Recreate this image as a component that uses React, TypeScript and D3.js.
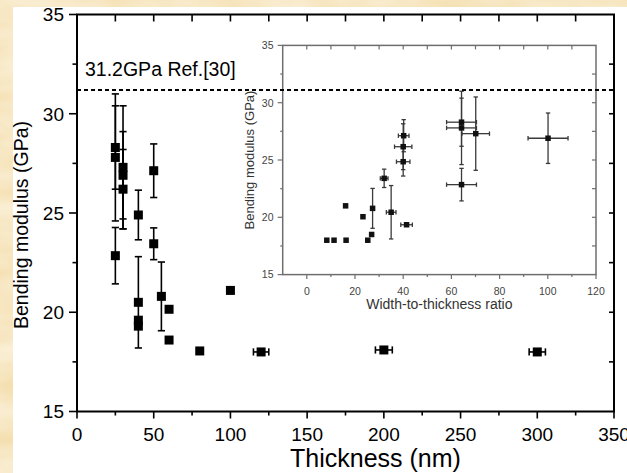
import React from "react";
import * as d3 from "d3";

// Main panel: bending modulus versus sample thickness
const thicknessNm = [25, 25, 25, 30, 30, 30, 40, 40, 40, 40, 50, 50, 55, 60, 60, 80, 100, 120, 200, 300];
const modulusGPa = [28.3, 27.8, 22.85, 27.3, 26.9, 26.2, 24.9, 20.5, 19.6, 19.3, 27.13, 23.45, 20.8, 20.15, 18.6, 18.05, 21.1, 18.0, 18.1, 18.0];
const modulusErr = [2.1, 3.2, 1.42, 3.1, 2.2, 2.0, 1.25, 2.3, 0, 0, 1.35, 0.8, 1.73, 0, 0, 0, 0, 0, 0, 0];
const thicknessErr = [0, 0, 0, 0, 0, 0, 0, 0, 0, 0, 0, 0, 0, 0, 0, 0, 0, 5, 5.5, 5.3];

// Inset: bending modulus versus width-to-thickness ratio
const ratio = [64.2, 64.2, 64.2, 70.1, 100.1, 40.2, 40.0, 40.0, 32.1, 35.0, 27.3, 41.4, 16.1, 23.3, 26.9, 8.3, 11.3, 16.3, 25.3];
const ratioModulus = [28.3, 27.8, 22.85, 27.3, 26.9, 27.12, 26.16, 24.85, 23.4, 20.44, 20.78, 19.35, 21.0, 20.05, 18.5, 18.0, 18.0, 18.0, 18.0];
const ratioErr = [6.2, 6.2, 6.2, 5.7, 8.3, 2.2, 3.6, 2.8, 1.6, 2.0, 0, 2.4, 0, 0, 0, 0, 0, 0, 0];
const ratioModulusErr = [2.1, 3.2, 1.42, 3.2, 2.2, 1.4, 2.0, 1.25, 0.8, 2.33, 1.74, 0, 0, 0, 0, 0, 0, 0, 0];

const mainXTicks = [0, 50, 100, 150, 200, 250, 300, 350];
const mainYTicks = [15, 20, 25, 30, 35];
const insetXTicks = [0, 20, 40, 60, 80, 100, 120];
const insetYTicks = [15, 20, 25, 30, 35];

const referenceModulus = 31.2;
const referenceLabel = "31.2GPa Ref.[30]";

const W = 627;
const H = 473;
const FONT = "'Liberation Sans', Arial, Helvetica, sans-serif";

export default function App() {
  const x = d3.scaleLinear().domain([0, 350]).range([77, 614]);
  const y = d3.scaleLinear().domain([15, 35]).range([411.5, 14.5]);
  const ix = d3.scaleLinear().domain([-10, 120]).range([282.7, 596]);
  const iy = d3.scaleLinear().domain([15, 35]).range([274.6, 45.4]);

  const minorX = d3.range(25, 350, 50);
  const minorY = d3.range(17.5, 35, 5);
  const topX = d3.range(25, 350, 25);
  const rightY = d3.range(17.5, 35, 2.5);
  const insetMinorX = d3.range(-10, 120, 20).filter((v) => v > -10);
  const insetMinorY = d3.range(17.5, 35, 5);
  const insetTopX = d3.range(0, 120, 10);
  const insetRightY = d3.range(17.5, 35, 2.5);

  const [x0, x1] = x.range();
  const [yb, yt] = y.range();
  const [ix0, ix1] = ix.range();
  const [iyb, iyt] = iy.range();

  const sq = 9;
  const cap = 3.6;
  const isq = 5.5;
  const icap = 2.2;
  const insetInk = "#3a3a3a";
  const insetAxis = "#6e6e6e";

  return (
    <svg
      width={W}
      height={H}
      viewBox={`0 0 ${W} ${H}`}
      style={{ position: "absolute", left: 0, top: 0, fontFamily: FONT }}
    >
      <defs>
        <filter id="paperGrain" x="0" y="0" width="100%" height="100%">
          <feTurbulence type="fractalNoise" baseFrequency="0.012 0.035" numOctaves={3} seed={7} />
          <feColorMatrix
            type="matrix"
            values="0 0 0 0 0.99  0 0 0 0 0.95  0 0 0 0 0.86  1.1 0 0 0 -0.25"
          />
        </filter>
      </defs>
      <rect x={0} y={0} width={W} height={H} fill="#f4dfb0" />
      <rect x={0} y={0} width={W} height={H} filter="url(#paperGrain)" />
      <rect x={13} y={7} width={W - 13} height={H - 7} fill="#ffffff" />

      {/* main frame */}
      <rect x={x0} y={yt} width={x1 - x0} height={yb - yt} fill="none" stroke="#000" strokeWidth={2} />

      {/* bottom axis ticks (outward) */}
      {mainXTicks.map((t) => (
        <line key={"bx" + t} x1={x(t)} x2={x(t)} y1={yb} y2={yb + 7} stroke="#000" strokeWidth={1.6} />
      ))}
      {minorX.map((t) => (
        <line key={"bmx" + t} x1={x(t)} x2={x(t)} y1={yb} y2={yb + 4} stroke="#000" strokeWidth={1.6} />
      ))}
      {/* top axis ticks (inward) */}
      {topX.map((t) => (
        <line key={"tx" + t} x1={x(t)} x2={x(t)} y1={yt} y2={yt + 7} stroke="#000" strokeWidth={1.6} />
      ))}
      {/* left axis ticks (outward) */}
      {mainYTicks.map((t) => (
        <line key={"ly" + t} x1={x0 - 8} x2={x0} y1={y(t)} y2={y(t)} stroke="#000" strokeWidth={1.6} />
      ))}
      {minorY.map((t) => (
        <line key={"lmy" + t} x1={x0 - 4.5} x2={x0} y1={y(t)} y2={y(t)} stroke="#000" strokeWidth={1.6} />
      ))}
      {/* right axis ticks (inward) */}
      {rightY.map((t) => (
        <line key={"ry" + t} x1={x1 - 5} x2={x1} y1={y(t)} y2={y(t)} stroke="#000" strokeWidth={1.6} />
      ))}

      {/* tick labels */}
      {mainXTicks.map((t) => (
        <text key={"bxl" + t} x={x(t)} y={441} textAnchor="middle" fontSize={19} fill="#000">
          {t}
        </text>
      ))}
      {mainYTicks.map((t) => (
        <text key={"lyl" + t} x={64} y={y(t) + 6.8} textAnchor="end" fontSize={19} fill="#000">
          {t}
        </text>
      ))}

      {/* axis titles */}
      <text x={290} y={467} fontSize={25} fill="#000">
        Thickness (nm)
      </text>
      <text
        transform={`translate(28,${(120 + 330) / 2}) rotate(-90)`}
        textAnchor="middle"
        fontSize={19.5}
        fill="#000"
      >
        Bending modulus (GPa)
      </text>

      {/* main data: error bars */}
      {thicknessNm.map((t, i) => {
        const cx = x(t);
        const cy = y(modulusGPa[i]);
        const e = modulusErr[i];
        const ex = thicknessErr[i];
        return (
          <g key={"me" + i} stroke="#000" strokeWidth={1.6}>
            {e > 0 && (
              <>
                <line x1={cx} x2={cx} y1={y(modulusGPa[i] + e)} y2={y(modulusGPa[i] - e)} />
                <line x1={cx - cap} x2={cx + cap} y1={y(modulusGPa[i] + e)} y2={y(modulusGPa[i] + e)} />
                <line x1={cx - cap} x2={cx + cap} y1={y(modulusGPa[i] - e)} y2={y(modulusGPa[i] - e)} />
              </>
            )}
            {ex > 0 && (
              <>
                <line x1={x(t - ex)} x2={x(t + ex)} y1={cy} y2={cy} />
                <line x1={x(t - ex)} x2={x(t - ex)} y1={cy - cap} y2={cy + cap} />
                <line x1={x(t + ex)} x2={x(t + ex)} y1={cy - cap} y2={cy + cap} />
              </>
            )}
          </g>
        );
      })}
      {/* main data: square markers */}
      {thicknessNm.map((t, i) => (
        <rect key={"mp" + i} x={x(t) - sq / 2} y={y(modulusGPa[i]) - sq / 2} width={sq} height={sq} fill="#000" />
      ))}

      {/* inset panel */}
      <rect x={ix0} y={iyt} width={ix1 - ix0} height={iyb - iyt} fill="#fff" stroke={insetAxis} strokeWidth={1.5} />
      {insetXTicks.map((t) => (
        <line key={"ibx" + t} x1={ix(t)} x2={ix(t)} y1={iyb} y2={iyb + 4.5} stroke={insetAxis} strokeWidth={1.2} />
      ))}
      {insetMinorX.map((t) => (
        <line key={"ibmx" + t} x1={ix(t)} x2={ix(t)} y1={iyb} y2={iyb + 2.5} stroke={insetAxis} strokeWidth={1.2} />
      ))}
      {insetTopX.map((t) => (
        <line key={"itx" + t} x1={ix(t)} x2={ix(t)} y1={iyt} y2={iyt + 4} stroke={insetAxis} strokeWidth={1.2} />
      ))}
      {insetYTicks.map((t) => (
        <line key={"ily" + t} x1={ix0 - 5} x2={ix0} y1={iy(t)} y2={iy(t)} stroke={insetAxis} strokeWidth={1.2} />
      ))}
      {insetMinorY.map((t) => (
        <line key={"ilmy" + t} x1={ix0 - 2.5} x2={ix0} y1={iy(t)} y2={iy(t)} stroke={insetAxis} strokeWidth={1.2} />
      ))}
      {insetRightY.map((t) => (
        <line key={"iry" + t} x1={ix1 - 4} x2={ix1} y1={iy(t)} y2={iy(t)} stroke={insetAxis} strokeWidth={1.2} />
      ))}
      {insetXTicks.map((t) => (
        <text key={"ibxl" + t} x={ix(t)} y={294.5} textAnchor="middle" fontSize={10.5} fill="#444">
          {t}
        </text>
      ))}
      {insetYTicks.map((t) => (
        <text key={"ilyl" + t} x={273.5} y={iy(t) + 3.8} textAnchor="end" fontSize={10.5} fill="#444">
          {t}
        </text>
      ))}
      <text x={(ix0 + ix1) / 2} y={308.5} textAnchor="middle" fontSize={14} fill="#333">
        Width-to-thickness ratio
      </text>
      <text
        transform={`translate(253.5,${(iyt + iyb) / 2}) rotate(-90)`}
        textAnchor="middle"
        fontSize={13}
        fill="#333"
      >
        Bending modulus (GPa)
      </text>

      {/* inset data: error bars */}
      {ratio.map((r, i) => {
        const cx = ix(r);
        const v = ratioModulus[i];
        const cy = iy(v);
        const e = ratioModulusErr[i];
        const ex = ratioErr[i];
        return (
          <g key={"ie" + i} stroke={insetInk} strokeWidth={1.3}>
            {e > 0 && (
              <>
                <line x1={cx} x2={cx} y1={iy(v + e)} y2={iy(v - e)} />
                <line x1={cx - icap} x2={cx + icap} y1={iy(v + e)} y2={iy(v + e)} />
                <line x1={cx - icap} x2={cx + icap} y1={iy(v - e)} y2={iy(v - e)} />
              </>
            )}
            {ex > 0 && (
              <>
                <line x1={ix(r - ex)} x2={ix(r + ex)} y1={cy} y2={cy} />
                <line x1={ix(r - ex)} x2={ix(r - ex)} y1={cy - icap} y2={cy + icap} />
                <line x1={ix(r + ex)} x2={ix(r + ex)} y1={cy - icap} y2={cy + icap} />
              </>
            )}
          </g>
        );
      })}
      {ratio.map((r, i) => (
        <rect key={"ip" + i} x={ix(r) - isq / 2} y={iy(ratioModulus[i]) - isq / 2} width={isq} height={isq} fill="#111" />
      ))}

      {/* reference value line */}
      <line
        x1={x0}
        x2={x1}
        y1={y(referenceModulus)}
        y2={y(referenceModulus)}
        stroke="#000"
        strokeWidth={2}
        strokeDasharray="4,3"
      />
      <text x={85} y={76} fontSize={19.5} fill="#000">
        {referenceLabel}
      </text>
    </svg>
  );
}
